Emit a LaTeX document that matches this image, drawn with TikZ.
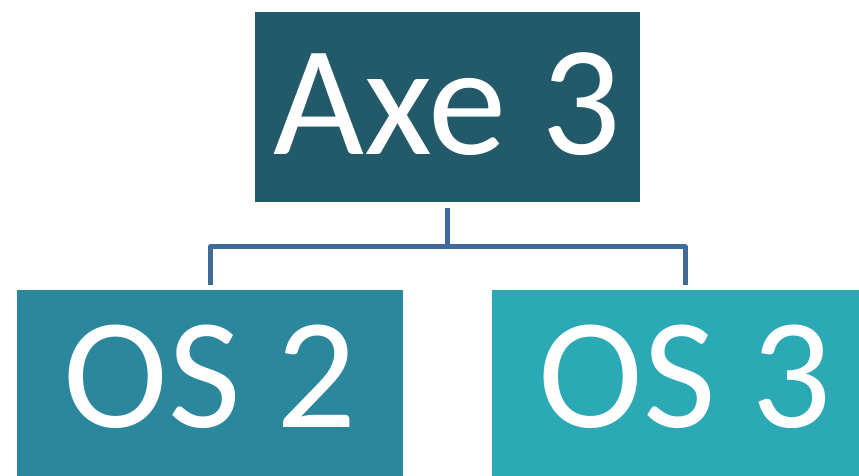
\documentclass[tikz,border=0pt]{standalone}
\usepackage{fontspec}
\setmainfont{Carlito}
\usetikzlibrary{calc}
\definecolor{topc}{HTML}{225A69}
\definecolor{leftc}{HTML}{2B879B}
\definecolor{rightc}{HTML}{2BA9B4}
\definecolor{linec}{HTML}{3E6A9C}
\begin{document}
\begin{tikzpicture}[x=1pt,y=1pt,
  box/.style={minimum width=386pt,minimum height=190pt,inner sep=0pt,text=white},
  lbl/.style={text=white,inner sep=0pt},
  conn/.style={draw=linec,line width=5pt}]
\useasboundingbox (0,0) rectangle (859,476);
\clip (0,0) rectangle (859,476);
\node[box,fill=topc,minimum width=385pt] (top) at (447.5,369) {};
\node[box,fill=leftc] (os2) at (210,91) {};
\node[box,fill=rightc] (os3) at (685,91) {};
\node[lbl,font=\fontsize{157}{157}\selectfont] (tt) at ($(top.center)+(0,3)$) {Axe 3};
\node[lbl,font=\fontsize{158}{158}\selectfont] (t2) at ($(os2.center)+(0,8)$) {OS 2};
\node[lbl,font=\fontsize{158}{158}\selectfont] (t3) at ($(os3.center)+(0,8)$) {OS 3};
\coordinate (a) at ($(top.south)+(0,-6)$);
\coordinate (b) at ($(os2.north)+(0,5)$);
\coordinate (c) at ($(os3.north)+(0,5)$);
\coordinate (m) at (447.5,229);
\draw[conn] (a) -- (m);
\draw[conn,line join=round] (b) |- (m) -| (c);
\end{tikzpicture}
\end{document}
